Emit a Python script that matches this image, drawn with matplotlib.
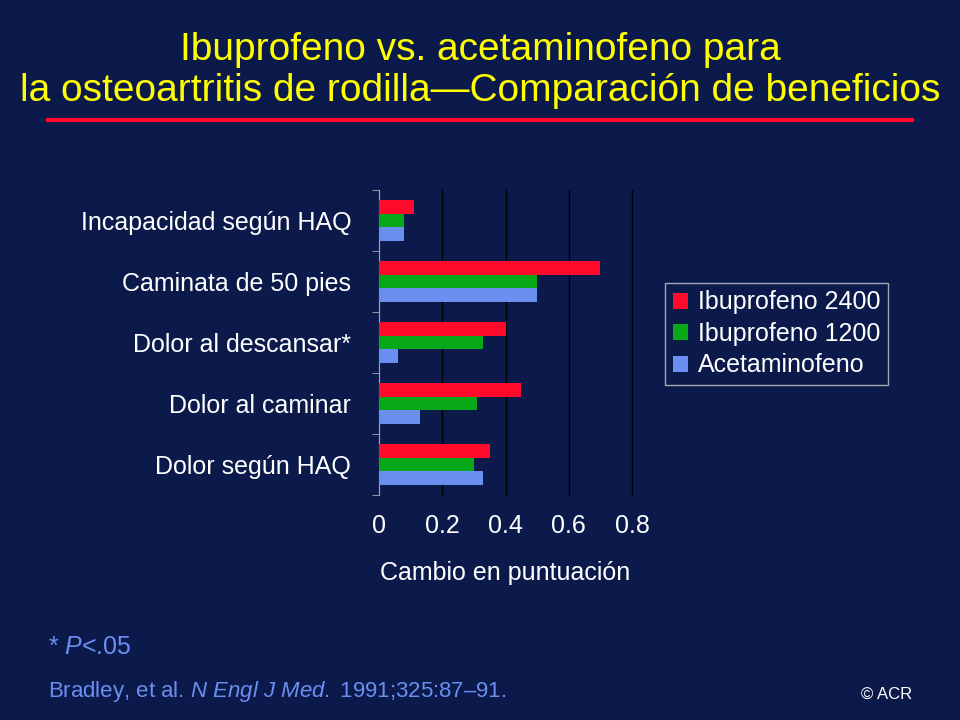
import matplotlib

matplotlib.use("Agg")
import matplotlib.pyplot as plt
import numpy as np

categories = ["Incapacidad según HAQ", "Caminata de 50 pies", "Dolor al descansar*",
              "Dolor al caminar", "Dolor según HAQ"]
ibu2400 = [0.11, 0.70, 0.40, 0.45, 0.35]
ibu1200 = [0.08, 0.50, 0.33, 0.31, 0.30]
acet = [0.08, 0.50, 0.06, 0.13, 0.33]
series = [("Ibuprofeno 2400", ibu2400, "#ff0a2a"),
          ("Ibuprofeno 1200", ibu1200, "#09a818"),
          ("Acetaminofeno", acet, "#6b8ff0")]

BG = "#0b1a4b"
plt.rcParams["font.family"] = ["Liberation Sans", "DejaVu Sans"]
plt.rcParams["mathtext.fontset"] = "custom"
plt.rcParams["mathtext.it"] = "Liberation Sans:italic"
plt.rcParams["mathtext.rm"] = "Liberation Sans"

fig = plt.figure(figsize=(9.6, 7.2), dpi=100, facecolor=BG)
ax = fig.add_axes([379 / 960, 1 - 495 / 720, 253 / 960, 305 / 720], facecolor=BG)

y = np.arange(len(categories))
h = 0.22
for i, (name, vals, col) in enumerate(series):
    ax.barh(y + (i - 1) * h, vals, height=h, color=col, label=name, zorder=3)

ax.set_ylim(len(categories) - 0.5, -0.5)
ax.set_xlim(0, 0.8)
ax.set_xticks([0, 0.2, 0.4, 0.6, 0.8])
ax.set_xticklabels(["0", "0.2", "0.4", "0.6", "0.8"])
ax.set_yticks(y)
ax.set_yticklabels(categories)
ax.set_yticks(np.arange(len(categories) + 1) - 0.5, minor=True)
ax.tick_params(axis="y", which="major", length=0, labelsize=18, colors="white", pad=20)
ax.tick_params(axis="y", which="minor", length=5, color="#aaaaaa", direction="out")
ax.tick_params(axis="x", length=0, labelsize=18, colors="white", pad=14)
for x in [0.2, 0.4, 0.6, 0.8]:
    ax.axvline(x, color="black", lw=1, zorder=1, clip_on=False)
for s in ["top", "right", "bottom"]:
    ax.spines[s].set_visible(False)
ax.spines["left"].set_color("#aaaaaa")
ax.set_xlabel("Cambio en puntuación", color="white", fontsize=18, labelpad=16)

leg = ax.legend(loc="upper left", bbox_to_anchor=(665 / 960, 1 - 283 / 720),
                bbox_transform=fig.transFigure, fontsize=18, frameon=True, fancybox=False,
                handlelength=0.6, handleheight=0.6, handletextpad=0.4, borderpad=0.3,
                labelspacing=0.3, borderaxespad=0)
leg.get_frame().set_facecolor(BG)
leg.get_frame().set_edgecolor("#cccccc")
for t in leg.get_texts():
    t.set_color("white")

fig.text(0.5, 1 - 50 / 720, "Ibuprofeno vs. acetaminofeno para", ha="center", va="center",
         color="#ffff00", fontsize=28)
fig.text(0.5, 1 - 91 / 720, "la osteoartritis de rodilla\u2014Comparación de beneficios",
         ha="center", va="center", color="#ffff00", fontsize=28)
fig.add_artist(plt.Line2D([48 / 960, 912 / 960], [1 - 120 / 720] * 2, color="#ff0a2a", lw=3))

fig.text(48 / 960, 1 - 647 / 720, "* $\\it{P}$<.05", color="#6b8ff0", fontsize=18, va="center")
fig.text(48 / 960, 1 - 691 / 720, "Bradley, et al. $\\it{N\\ Engl\\ J\\ Med.}$ 1991;325:87\u201391.",
         color="#6b8ff0", fontsize=16, va="center")
fig.text(912 / 960, 1 - 694 / 720, "© ACR", color="white", fontsize=12, va="center", ha="right")

fig.savefig("out.png", dpi=100, facecolor=BG)
